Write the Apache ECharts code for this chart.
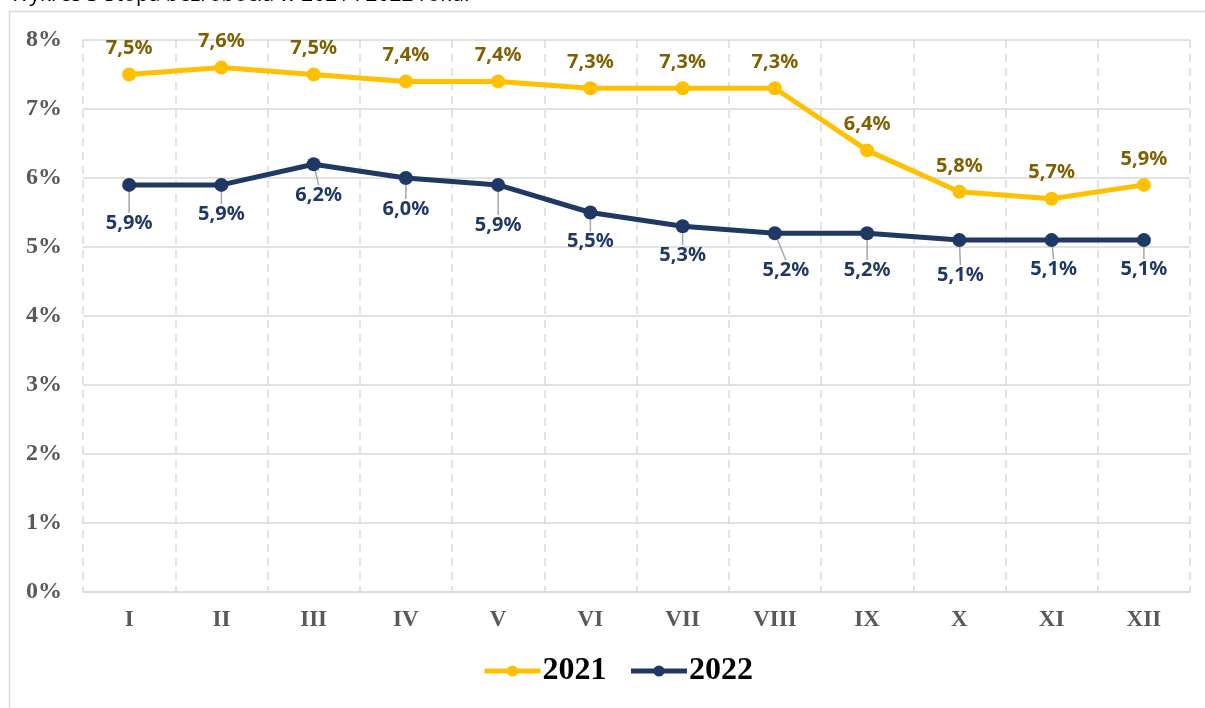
<!DOCTYPE html>
<html>
<head>
<meta charset="utf-8">
<script src="https://cdn.jsdelivr.net/npm/echarts@6/dist/echarts.min.js"></script>
<style>
  html, body { margin: 0; padding: 0; background: #fff; }
  #chart { width: 1205px; height: 708px; }
</style>
</head>
<body>
<div id="chart"></div>
<script>
var months = ['I', 'II', 'III', 'IV', 'V', 'VI', 'VII', 'VIII', 'IX', 'X', 'XI', 'XII'];
var rate2021 = [7.5, 7.6, 7.5, 7.4, 7.4, 7.3, 7.3, 7.3, 6.4, 5.8, 5.7, 5.9];
var rate2022 = [5.9, 5.9, 6.2, 6.0, 5.9, 5.5, 5.3, 5.2, 5.2, 5.1, 5.1, 5.1];

// label nudges for 2022 (labels sit below the line, some pushed further with a leader line)
var shift2022 = [
  [0, 15], [0, 6], [5, 8], [0, 8], [0, 17], [0, 6],
  [0, 6], [11, 14], [0, 14], [1, 12], [2, 6], [0, 6]
];

function pct (v) {
  return v.toFixed(1).replace('.', ',') + '%';
}

var myChart = echarts.init(document.getElementById('chart'));
var option = {
  backgroundColor: '#fff',
  animation: false,
  graphic: [
    {
      type: 'rect',
      shape: { x: 9.5, y: 11.5, width: 1210, height: 710 },
      style: { fill: 'none', stroke: '#d9d9d9', lineWidth: 1.5 },
      silent: true
    },
    {
      type: 'text',
      left: 10,
      top: -15,
      style: {
        text: 'Wykres 3 Stopa bezrobocia w 2021 i 2022 roku.',
        font: '21px "Open Sans", sans-serif',
        fill: '#000'
      }
    }
  ],
  grid: { left: 83, right: 15, top: 40, bottom: 116, containLabel: false },
  legend: {
    bottom: 16,
    left: 477,
    itemWidth: 56,
    itemHeight: 14,
    itemGap: 22,
    lineStyle: { width: 5 },
    textStyle: {
      fontFamily: '"Liberation Serif", serif',
      fontWeight: 'bold',
      fontSize: 32,
      color: '#000',
      padding: [0, 0, 0, -3]
    },
    data: ['2021', '2022']
  },
  xAxis: {
    type: 'category',
    data: months,
    boundaryGap: true,
    axisLine: { lineStyle: { color: '#d9d9d9', width: 1.5 } },
    axisTick: { show: false },
    axisLabel: {
      margin: 17,
      fontFamily: '"Liberation Serif", serif',
      fontWeight: 'bold',
      fontSize: 23,
      color: '#595959'
    },
    splitLine: {
      show: true,
      lineStyle: { color: '#d9d9d9', type: [8, 6], width: 1.5 }
    }
  },
  yAxis: {
    type: 'value',
    min: 0,
    max: 8,
    interval: 1,
    axisLine: { show: false },
    axisTick: { show: false },
    axisLabel: {
      margin: 21,
      formatter: '{value}%',
      fontFamily: '"Liberation Serif", serif',
      fontWeight: 'bold',
      fontSize: 24,
      color: '#595959'
    },
    splitLine: { lineStyle: { color: '#d9d9d9', width: 1.5 } }
  },
  series: [
    {
      name: '2021',
      type: 'line',
      data: rate2021,
      color: '#ffc000',
      symbol: 'circle',
      symbolSize: 14,
      lineStyle: { width: 5, color: '#ffc000' },
      itemStyle: { color: '#ffc000' },
      label: {
        show: true,
        position: 'top',
        distance: 9,
        formatter: function (p) { return pct(p.value); },
        fontFamily: '"Noto Sans", sans-serif',
        fontWeight: 'bold',
        fontSize: 20,
        color: '#7f6000'
      },
      z: 3
    },
    {
      name: '2022',
      type: 'line',
      data: rate2022,
      color: '#203864',
      symbol: 'circle',
      symbolSize: 14,
      lineStyle: { width: 5, color: '#203864' },
      itemStyle: { color: '#203864' },
      label: {
        show: true,
        position: 'bottom',
        distance: 6,
        formatter: function (p) { return pct(p.value); },
        fontFamily: '"Noto Sans", sans-serif',
        fontWeight: 'bold',
        fontSize: 20,
        color: '#203864'
      },
      labelLine: {
        show: true,
        lineStyle: { color: '#a6a6a6', width: 1.5 }
      },
      labelLayout: function (p) {
        var s = shift2022[p.dataIndex];
        return { dx: s[0], dy: s[1] };
      },
      z: 4
    }
  ]
};

myChart.setOption(option);
</script>
</body>
</html>
